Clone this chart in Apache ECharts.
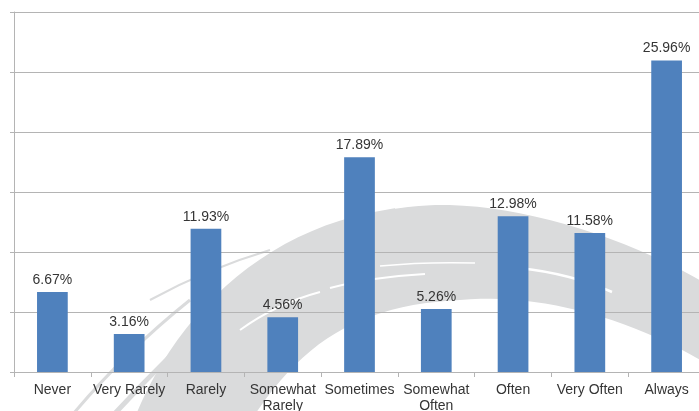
<!DOCTYPE html>
<html>
<head>
<meta charset="utf-8">
<script src="https://cdn.jsdelivr.net/npm/echarts@6/dist/echarts.min.js"></script>
<style>
  html, body { margin: 0; padding: 0; background: #fff; }
  #chart { width: 699px; height: 411px; }
</style>
</head>
<body>
<div id="chart"></div>
<script>
// Frequency categories and the share of responses in each
var categories = ['Never', 'Very Rarely', 'Rarely', 'Somewhat Rarely', 'Sometimes',
                  'Somewhat Often', 'Often', 'Very Often', 'Always'];
var shares = [6.67, 3.16, 11.93, 4.56, 17.89, 5.26, 12.98, 11.58, 25.96];

var yMin = 0;
var yMax = 30;
var yStep = 5;

var chart = echarts.init(document.getElementById('chart'), null, { renderer: 'canvas' });

var gridColor = '#b4b4b4';
var textColor = '#353535';
var swooshColor = '#dadbdc';

// Sample a chain of cubic Bézier segments [p0, c1, c2, p1] into polygon points
function sampleCurves(segments, steps) {
  var pts = [];
  segments.forEach(function (s) {
    for (var i = 0; i <= steps; i++) {
      var t = i / steps, u = 1 - t;
      var a = u * u * u, b = 3 * u * u * t, c = 3 * u * t * t, d = t * t * t;
      pts.push([
        a * s[0][0] + b * s[1][0] + c * s[2][0] + d * s[3][0],
        a * s[0][1] + b * s[1][1] + c * s[2][1] + d * s[3][1]
      ]);
    }
  });
  return pts;
}

// decorative brush-stroke watermark behind the plot
var swooshBody = sampleCurves([
  [[130, 430], [170, 320], [260, 230], [385, 210]],
  [[385, 210], [480, 190], [620, 230], [720, 292]],
  [[720, 372], [640, 320], [540, 292], [460, 300]],
  [[460, 300], [360, 305], [300, 340], [245, 430]]
], 24);

function whiteStreak(x1, y1, cx1, cy1, cx2, cy2, x2, y2, w) {
  return {
    type: 'bezierCurve', z: -9, silent: true,
    shape: { x1: x1, y1: y1, cpx1: cx1, cpy1: cy1, cpx2: cx2, cpy2: cy2, x2: x2, y2: y2 },
    style: { stroke: '#ffffff', lineWidth: w, fill: null }
  };
}
function grayStrand(x1, y1, cx1, cy1, cx2, cy2, x2, y2, w) {
  return {
    type: 'bezierCurve', z: -10, silent: true,
    shape: { x1: x1, y1: y1, cpx1: cx1, cpy1: cy1, cpx2: cx2, cpy2: cy2, x2: x2, y2: y2 },
    style: { stroke: swooshColor, lineWidth: w, fill: null }
  };
}

chart.setOption({
  animation: false,
  backgroundColor: '#ffffff',
  textStyle: { fontFamily: 'Liberation Sans, Arial, sans-serif' },
  graphic: [
    {
      type: 'polygon', z: -10, silent: true,
      shape: { points: swooshBody },
      style: { fill: swooshColor }
    },
    grayStrand(60, 430, 100, 380, 140, 340, 190, 300, 3),
    grayStrand(100, 430, 140, 385, 180, 345, 225, 305, 5),
    grayStrand(150, 300, 190, 278, 230, 262, 270, 250, 2),
    whiteStreak(330, 288, 360, 280, 390, 276, 425, 274, 2),
    whiteStreak(380, 266, 410, 263, 440, 262, 475, 263, 1.5),
    whiteStreak(520, 268, 555, 272, 585, 280, 612, 292, 2.5),
    whiteStreak(395, 208, 420, 204, 450, 203, 480, 205, 1.5),
    whiteStreak(240, 330, 265, 312, 290, 300, 320, 292, 2)
  ],
  grid: { left: 14, top: 12, width: 691, height: 360, containLabel: false, outerBoundsMode: 'none' },
  xAxis: {
    type: 'category',
    data: categories,
    boundaryGap: true,
    axisLine: { show: true, lineStyle: { color: gridColor, width: 1 } },
    axisTick: { show: true, length: 5, alignWithLabel: false, lineStyle: { color: gridColor } },
    axisLabel: {
      interval: 0,
      color: textColor,
      fontSize: 14,
      lineHeight: 16,
      margin: 10,
      formatter: function (v) { return v.replace('Somewhat ', 'Somewhat\n'); }
    }
  },
  yAxis: {
    type: 'value',
    min: yMin,
    max: yMax,
    interval: yStep,
    axisLine: { show: true, lineStyle: { color: gridColor, width: 1 } },
    axisTick: { show: true, length: 4, inside: false, lineStyle: { color: gridColor } },
    axisLabel: { show: false },
    splitLine: { show: true, lineStyle: { color: gridColor, width: 1 } }
  },
  series: [{
    type: 'bar',
    data: shares,
    barCategoryGap: '60%',
    itemStyle: { color: '#4f81bd' },
    label: {
      show: true,
      position: 'top',
      distance: 5,
      color: textColor,
      fontSize: 14,
      formatter: function (p) { return p.value.toFixed(2) + '%'; }
    }
  }]
});
</script>
</body>
</html>
